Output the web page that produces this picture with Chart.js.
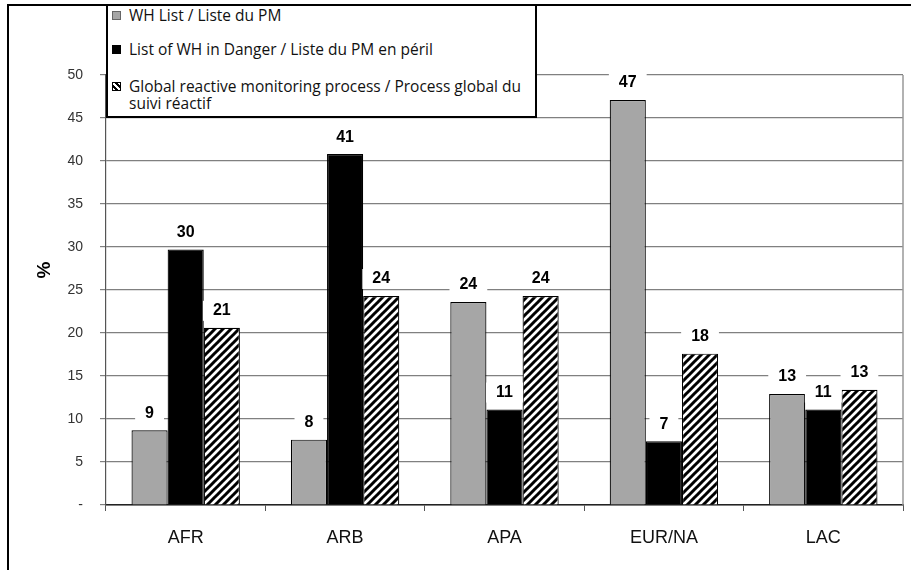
<!DOCTYPE html>
<html>
<head>
<meta charset="utf-8">
<script src="https://cdn.jsdelivr.net/npm/chart.js@4.4.0/dist/chart.umd.min.js"></script>
<style>
  body { margin: 0; background: #fff; }
  #wrap { position: relative; width: 911px; height: 570px; overflow: hidden; }
  #frame { position: absolute; left: 7px; top: 4px; width: 1000px; height: 1000px; border: 2px solid #000; }
  #legend { position: absolute; left: 106px; top: 4px; width: 431px; height: 114px; box-sizing: border-box;
            border: 2px solid #000; background: #fff; font-family: "Open Sans", sans-serif; font-size: 15.5px;
            line-height: 17px; color: #111; }
  .item { position: absolute; left: 4px; }
  .mark { position: absolute; left: 0; top: 4px; width: 9px; height: 9px; box-sizing: border-box; }
  .txt { position: absolute; left: 17px; top: 0; white-space: nowrap; }
</style>
</head>
<body>
<div id="wrap">
  <canvas id="chart" width="911" height="570"></canvas>
  <div id="frame"></div>
  <div id="legend"></div>
</div>
<script>
const regions = ['AFR', 'ARB', 'APA', 'EUR/NA', 'LAC'];
const whList = [8.7, 7.6, 23.6, 47.1, 12.9];
const inDanger = [29.7, 40.8, 11.1, 7.4, 11.1];
const reactive = [20.6, 24.3, 24.3, 17.6, 13.4];
const seriesNames = [
  'WH List / Liste du PM',
  'List of WH in Danger / Liste du PM en péril',
  'Global reactive monitoring process / Process global du\nsuivi réactif'
];
const yTicks = [0, 5, 10, 15, 20, 25, 30, 35, 40, 45, 50];

// hatch pattern for the third series
function hatch() {
  const s = 8;
  const c = document.createElement('canvas');
  c.width = s; c.height = s;
  const g = c.getContext('2d');
  g.fillStyle = '#fff';
  g.fillRect(0, 0, s, s);
  g.strokeStyle = '#000';
  g.lineWidth = 3;
  g.beginPath();
  g.moveTo(-1, s + 1); g.lineTo(s + 1, -1);
  g.moveTo(-1, 1); g.lineTo(1, -1);
  g.moveTo(s - 1, s + 1); g.lineTo(s + 1, s - 1);
  g.stroke();
  return document.getElementById('chart').getContext('2d').createPattern(c, 'repeat');
}

// legend box
const legend = document.getElementById('legend');
const marks = [
  'background:#a6a6a6;border:1px solid #666;',
  'background:#000;',
  'background:repeating-linear-gradient(45deg,#fff 0 2px,#000 2px 4px);border:1px solid #000;'
];
const tops = [1, 35, 72];
seriesNames.forEach((name, i) => {
  const d = document.createElement('div');
  d.className = 'item';
  d.style.top = tops[i] + 'px';
  d.innerHTML = '<span class="mark" style="' + marks[i] + '"></span><span class="txt">' +
    name.replace('\n', '<br>') + '</span>';
  legend.appendChild(d);
});

const valueLabels = {
  id: 'valueLabels',
  afterDatasetsDraw(chart) {
    const ctx = chart.ctx;
    ctx.save();
    ctx.font = 'bold 16px "Liberation Sans", Arial, sans-serif';
    ctx.textAlign = 'center';
    ctx.textBaseline = 'middle';
    chart.data.datasets.forEach((ds, i) => {
      chart.getDatasetMeta(i).data.forEach((bar, j) => {
        const t = String(Math.round(ds.data[j]));
        const w = ctx.measureText(t).width + 20;
        const cy = bar.y - 17;
        ctx.fillStyle = '#fff';
        ctx.fillRect(bar.x - w / 2, cy - 10, w, 20);
        ctx.fillStyle = '#000';
        ctx.fillText(t, bar.x, cy);
      });
    });
    ctx.restore();
  },
  afterDraw(chart) {
    const ctx = chart.ctx;
    const a = chart.chartArea;
    ctx.save();
    ctx.strokeStyle = '#999';
    ctx.lineWidth = 1.5;
    ctx.beginPath();
    ctx.moveTo(a.right, a.top);
    ctx.lineTo(a.right, a.bottom);
    ctx.stroke();
    ctx.translate(45, 270);
    ctx.rotate(-Math.PI / 2);
    ctx.font = 'bold 19px "Liberation Sans", Arial, sans-serif';
    ctx.fillStyle = '#000';
    ctx.textAlign = 'center';
    ctx.textBaseline = 'middle';
    ctx.fillText('%', 0, 0);
    ctx.restore();
  }
};

new Chart(document.getElementById('chart'), {
  type: 'bar',
  data: {
    labels: regions,
    datasets: [
      { label: seriesNames[0], data: whList, backgroundColor: '#a6a6a6' },
      { label: seriesNames[1], data: inDanger, backgroundColor: '#000' },
      { label: seriesNames[2], data: reactive, backgroundColor: hatch() }
    ]
  },
  options: {
    responsive: false,
    animation: false,
    devicePixelRatio: 1,
    layout: { padding: { left: 8, right: 8, top: 75, bottom: 0 } },
    datasets: {
      bar: { categoryPercentage: 0.68, barPercentage: 1, borderColor: '#000', borderWidth: 1.2 }
    },
    plugins: { legend: { display: false }, tooltip: { enabled: false } },
    scales: {
      x: {
        afterFit: s => { s.height = 65; },
        grid: { drawOnChartArea: false, drawTicks: true, tickLength: 6, offset: true, color: '#555' },
        border: { color: '#222', width: 1.5 },
        ticks: { font: { family: '"Liberation Sans", Arial', size: 18 }, color: '#111', padding: 16 }
      },
      y: {
        min: 0,
        max: 50,
        afterFit: s => { s.width = 98; },
        afterBuildTicks: s => { s.ticks = yTicks.map(v => ({ value: v })); },
        grid: { color: '#808080', tickLength: 6, lineWidth: 1.2 },
        border: { color: '#555', width: 1.2 },
        ticks: {
          font: { family: '"Liberation Sans", Arial', size: 14 },
          color: '#333',
          padding: 17,
          callback: v => v === 0 ? '-' : v
        }
      }
    }
  },
  plugins: [valueLabels]
});
</script>
</body>
</html>
